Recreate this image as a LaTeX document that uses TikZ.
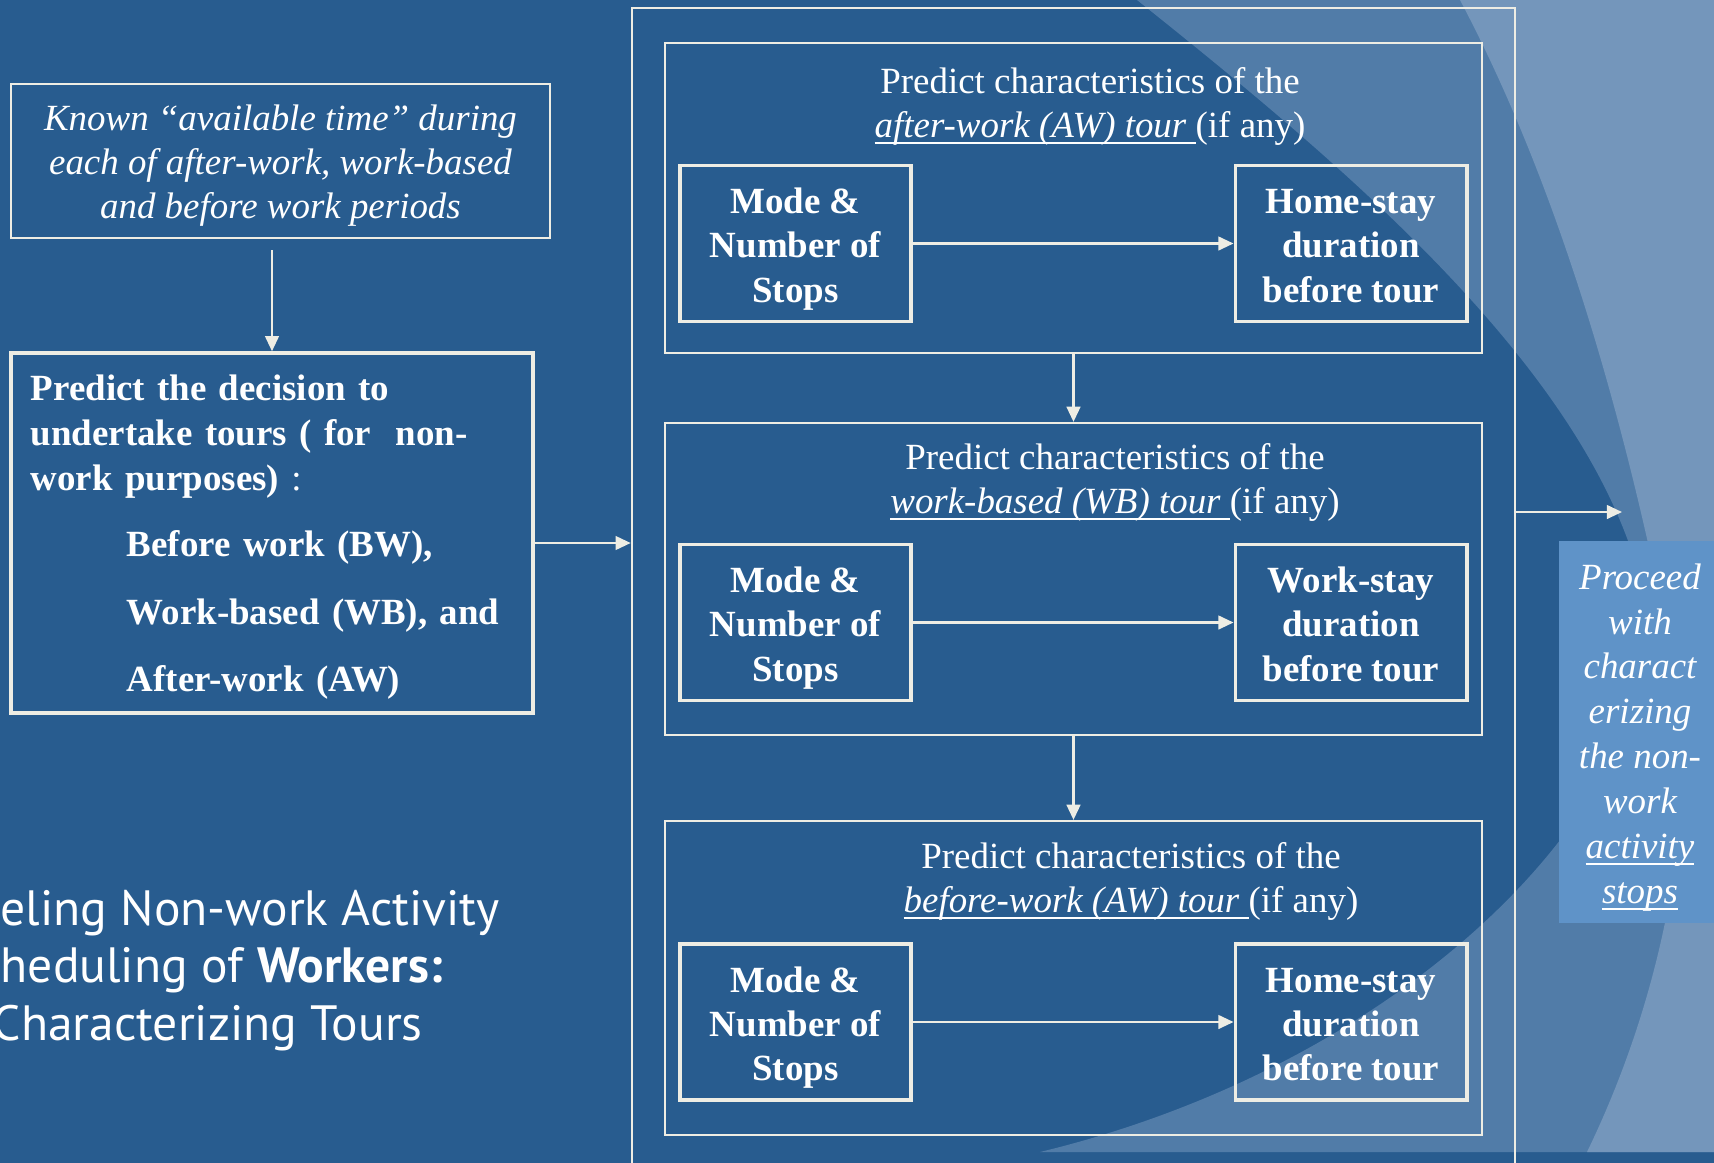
\documentclass[tikz,border=0pt]{standalone}
\usepackage{fontspec}
\setmainfont{Liberation Serif}
\newfontfamily\titlefont{PT Sans}
\usetikzlibrary{arrows.meta}

\definecolor{slideblue}{RGB}{40,92,143}
\definecolor{swoosha}{RGB}{81,124,168}
\definecolor{swooshb}{RGB}{116,150,187}
\definecolor{nextblue}{RGB}{95,147,200}
\definecolor{rulecream}{RGB}{238,237,228}

% underline sitting just under the baseline, through the descenders
\newsavebox\ulnbox
\newcommand{\uln}[1]{\sbox\ulnbox{#1}\rlap{\rule[-1.9pt]{\wd\ulnbox}{0.6pt}}\usebox\ulnbox}
% tall first line / deep last line, so centred blocks sit alike
\newcommand{\lowtop}[1]{\rule{0pt}{#1}}
\newcommand{\lowend}{\rule[-2.3pt]{0pt}{2.3pt}}

\begin{document}
\begin{tikzpicture}[x=0.01cm, y=-0.01cm,
    txt/.style={text=white, font=\fontsize{10.5}{12.5}\selectfont},
    thinbox/.style={draw=rulecream, line width=0.6pt, inner sep=0pt},
    stopbox/.style={draw=rulecream, line width=1.1pt, inner sep=0pt,
        minimum width=2.31cm, minimum height=1.56cm, align=center,
        text=white, font=\fontsize{10.5}{12.6}\selectfont\bfseries},
    titleline/.style={anchor=base west, inner sep=0pt, text=white,
        font=\titlefont\fontsize{14.1}{16.4}\selectfont},
    flow/.style={color=rulecream, line width=0.6pt,
        -{Triangle[length=4.3pt, width=3.9pt]}}]
            \useasboundingbox (0,0) rectangle (1714,1163);
            \clip (0,0) rectangle (1714,1163);
            \fill[slideblue] (0,0) rectangle (1714,1163);
            \fill[swoosha] (1137,0) .. controls (1350,170) and (1600,380) .. (1645,600)
                .. controls (1670,790) and (1420,1060) .. (1040,1152)
                -- (1714,1152) -- (1714,0) -- cycle;
            \fill[swooshb] (1460,0) .. controls (1550,170) and (1625,400) .. (1680,700)
                .. controls (1690,780) and (1680,960) .. (1587,1152)
                -- (1714,1152) -- (1714,0) -- cycle;

            \node[titleline] (title1) at (0, 925){eling Non-work Activity};
            \node[titleline] (title2) at (0, 982){heduling of \textbf{Workers:}};
            \node[titleline] (title3) at (-8, 1040){Characterizing Tours};

            \node[thinbox, txt, font=\fontsize{10.5}{12.6}\selectfont\itshape, align=center, minimum width=5.39cm, minimum height=1.54cm] (known) at (280.5, 161){\lowtop{10pt}Known “available time” during\\each of after-work, work-based\\and before work periods};
            \node[draw=rulecream, line width=0.95pt, inner sep=0pt, minimum width=5.22cm, minimum height=3.6cm, txt, font=\fontsize{10.5}{12.8}\selectfont\bfseries, align=left, text width=4.82cm] (decide) at (272, 533){\lowtop{9.6pt}Predict the decision to\\
                undertake tours ( for\ \ non-\\
                work purposes)\textmd{ :}\\[6pt]
                \hspace*{27.3pt}Before work (BW),\\[6.4pt]
                \hspace*{27.3pt}Work-based (WB), and\\[6.4pt]
                \hspace*{27.3pt}After-work (AW)};

            \node[thinbox, minimum width=8.83cm, minimum height=11.92cm] (frame) at (1073.5, 604){};
            \node[thinbox, minimum width=8.17cm, minimum height=3.10cm] (aw) at (1073.5, 198){};
            \node[thinbox, minimum width=8.17cm, minimum height=3.12cm] (wb) at (1073.5, 579){};
            \node[thinbox, minimum width=8.17cm, minimum height=3.14cm] (bw) at (1073.5, 978){};

            \node[txt, align=center] (awhead) at (1090, 106){Predict characteristics of the\\\uln{\textit{after-work (AW) tour\ }}(if any)};
            \node[txt, align=center] (wbhead) at (1115, 482.5){Predict characteristics of the\\\uln{\textit{work-based (WB) tour\ }}(if any)};
            \node[txt, align=center] (bwhead) at (1131, 881.5){Predict characteristics of the\\\uln{\textit{before-work (AW) tour\ }}(if any)};

            \node[stopbox] (aw1) at (795.5, 243.5){\lowtop{10.5pt}Mode \&\\Number of\\Stops\lowend};
            \node[stopbox] (aw2) at (1351, 243.5){\lowtop{10.5pt}Home-stay\\duration\\before tour\lowend};
            \node[stopbox] (wb1) at (795.5, 622.5){\lowtop{10.5pt}Mode \&\\Number of\\Stops\lowend};
            \node[stopbox] (wb2) at (1351, 622.5){\lowtop{10.5pt}Work-stay\\duration\\before tour\lowend};
            \node[stopbox] (bw1) at (795.5, 1022){\lowtop{10.5pt}Mode \&\\Number of\\Stops\lowend};
            \node[stopbox] (bw2) at (1351, 1022){\lowtop{10.5pt}Home-stay\\duration\\before tour\lowend};

            \node[fill=nextblue, inner sep=0pt, minimum width=1.62cm, minimum height=3.82cm, text=white, font=\fontsize{10.5}{12.75}\selectfont\itshape, align=center] (next) at (1640, 732){\lowtop{10.3pt}Proceed\\with\\charact\\erizing\\the non-\\work\\\uln{activity}\\\uln{stops}};

            \coordinate (k0) at (272, 250);
            \coordinate (lvl) at (0, 543);
            \coordinate (exit) at (1622, 512);

            \path [flow] (k0) edge (decide);
            \path [flow] (decide.east |- lvl) edge (frame.west |- lvl);
            \path [flow] (frame.east |- exit) edge (exit);

            \path [flow] (aw1) edge (aw2);
            \path [flow] (wb1) edge (wb2);
            \path [flow] (bw1) edge (bw2);

            \path [flow] (aw) edge (wb);
            \path [flow] (wb) edge (bw);
        \end{tikzpicture}
\end{document}
